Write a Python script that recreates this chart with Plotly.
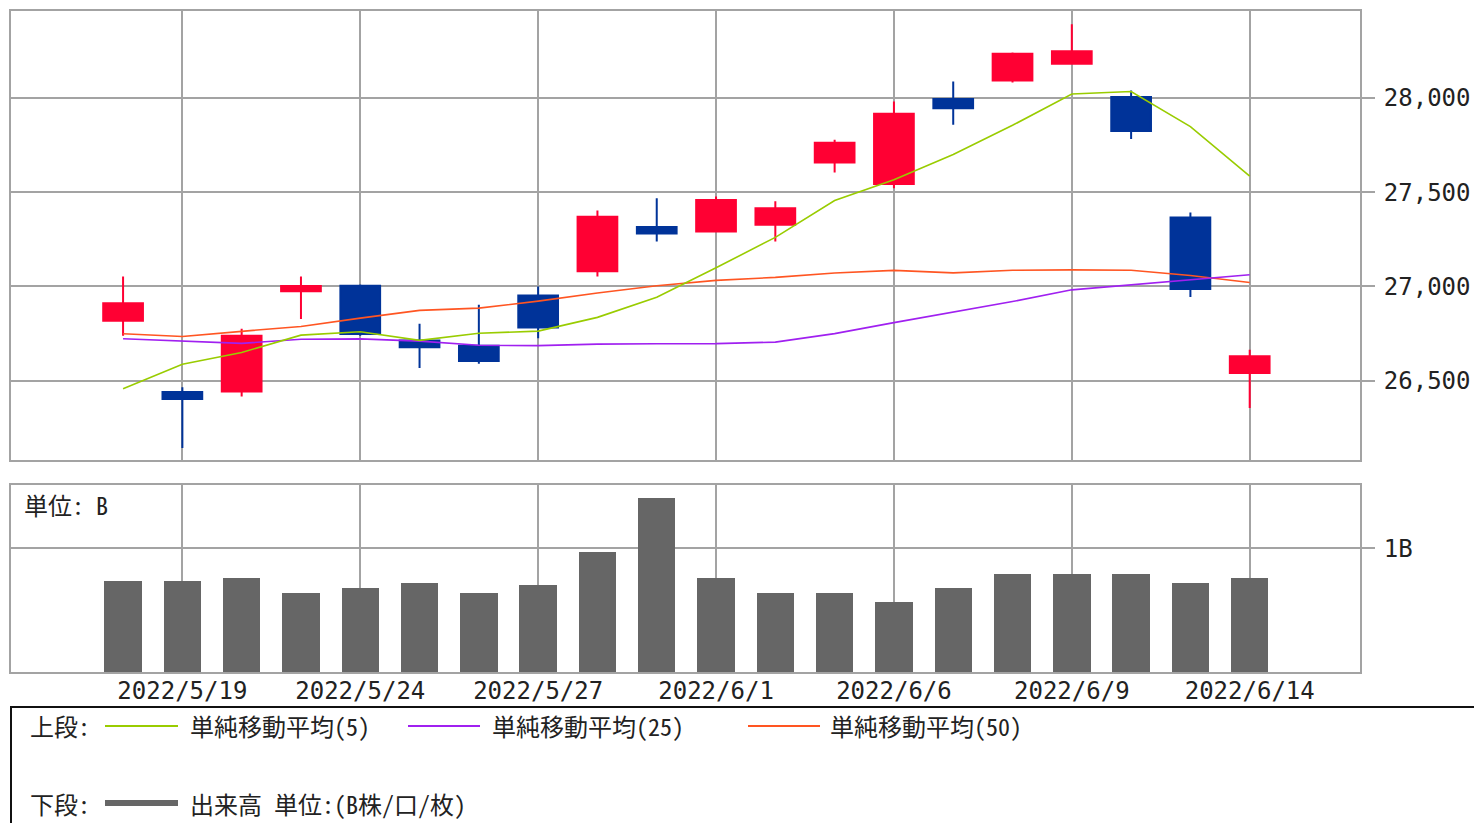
import plotly.graph_objects as go

dates = ["2022/5/18", "2022/5/19", "2022/5/20", "2022/5/23", "2022/5/24",
         "2022/5/25", "2022/5/26", "2022/5/27", "2022/5/30", "2022/5/31",
         "2022/6/1", "2022/6/2", "2022/6/3", "2022/6/6", "2022/6/7",
         "2022/6/8", "2022/6/9", "2022/6/10", "2022/6/13", "2022/6/14"]
open_ = [26818, 26440, 26443, 26975, 27004, 26714, 26686, 26952, 27080, 27315,
         27291, 27327, 27657, 27543, 27993, 28092, 28180, 28004, 27366, 26541]
high = [27053, 26465, 26776, 27053, 27010, 26802, 26903, 27000, 27403, 27468,
        27477, 27451, 27777, 27980, 28086, 28240, 28390, 28039, 27392, 26664]
low = [26739, 26143, 26417, 26827, 26738, 26567, 26590, 26726, 27053, 27238,
       27291, 27238, 27604, 27521, 27857, 28081, 28180, 27781, 26944, 26355]
close = [26911, 26403, 26739, 27002, 26748, 26678, 26605, 26782, 27369, 27280,
         27458, 27414, 27762, 27916, 27944, 28234, 28247, 27824, 26987, 26630]

ma5 = [26458, 26588, 26650, 26742, 26760, 26714, 26752, 26763, 26836, 26943,
       27099, 27260, 27455, 27566, 27699, 27854, 28020, 28033, 27847, 27585]
ma25 = [26723, 26712, 26698, 26720, 26722, 26710, 26688, 26686, 26694, 26696,
        26697, 26705, 26750, 26808, 26864, 26920, 26982, 27010, 27035, 27062]
ma50 = [26749, 26735, 26762, 26788, 26832, 26873, 26885, 26922, 26965, 27004,
        27032, 27048, 27071, 27085, 27072, 27086, 27088, 27086, 27058, 27021]

volume_b = [0.737, 0.737, 0.757, 0.640, 0.681, 0.719, 0.640, 0.700, 0.967, 1.408,
            0.757, 0.640, 0.640, 0.565, 0.681, 0.794, 0.794, 0.794, 0.719, 0.757]

x_ticks = ["2022/5/19", "2022/5/24", "2022/5/27", "2022/6/1", "2022/6/6", "2022/6/9", "2022/6/14"]
price_ticks = [26500, 27000, 27500, 28000]
price_tick_text = ["26,500", "27,000", "27,500", "28,000"]
vol_ticks = [1]
vol_tick_text = ["1B"]

legend_upper_label = "上段:"
legend_lower_label = "下段:"
legend_names = ["単純移動平均(5)", "単純移動平均(25)", "単純移動平均(50)"]
volume_name = "出来高 単位:(B株/口/枚)"
unit_label = "単位: B"

UP = "#FF0033"
DOWN = "#003399"
C5 = "#99CC00"
C25 = "#A020F0"
C50 = "#FF5522"
VOLC = "#666666"
GRID = "#A3A3A3"
TXT = "#222222"
TICKFONT = dict(family="DejaVu Sans Mono, DejaVu Sans", size=24, color=TXT)
CJK = "Noto Sans Mono CJK JP, Noto Sans CJK JP"
LEGFONT = dict(family=CJK, size=24, color=TXT)

fig = go.Figure()

fig.add_trace(go.Candlestick(
    x=dates, open=open_, high=high, low=low, close=close,
    increasing=dict(line=dict(color=UP, width=2), fillcolor=UP),
    decreasing=dict(line=dict(color=DOWN, width=2), fillcolor=DOWN),
    whiskerwidth=0, xaxis="x", yaxis="y", showlegend=False,
))
for vals, col in [(ma50, C50), (ma25, C25), (ma5, C5)]:
    fig.add_trace(go.Scatter(x=dates, y=vals, mode="lines",
                             line=dict(color=col, width=1.6),
                             xaxis="x", yaxis="y", showlegend=False))

fig.add_trace(go.Bar(x=dates, y=volume_b, marker=dict(color=VOLC, line=dict(width=0)),
                     width=0.63, xaxis="x2", yaxis="y2", showlegend=False))

W, H = 1474, 823
ml, mr, mt, mb = 11, 114, 11, 151
ph = H - mt - mb
pw = W - ml - mr


def px_x(p):
    return (p - ml) / pw


def px_y(p):
    return (H - mb - p) / ph


xr = [-1.89, 20.86]
common_x = dict(type="category", categoryorder="array", categoryarray=dates,
                range=xr, tickmode="array", tickvals=x_ticks, ticktext=x_ticks,
                showgrid=True, gridcolor=GRID, gridwidth=2,
                showline=True, linecolor=GRID, linewidth=2, mirror=True,
                zeroline=False, ticks="", tickfont=TICKFONT, automargin=False,
                ticklabelstandoff=-4,
                rangeslider=dict(visible=False), fixedrange=True)
common_y = dict(side="right", tickmode="array",
                showgrid=True, gridcolor=GRID, gridwidth=2,
                showline=True, linecolor=GRID, linewidth=2, mirror=True,
                ticks="outside", ticklen=13, tickwidth=2, tickcolor=GRID,
                ticklabelstandoff=4, automargin=False,
                tickfont=TICKFONT, zeroline=False, fixedrange=True)

fig.update_layout(
    width=W, height=H,
    margin=dict(l=ml, r=mr, t=mt, b=mb, pad=0, autoexpand=False),
    paper_bgcolor="white", plot_bgcolor="white",
    font=dict(family=CJK, color=TXT),
    boxgap=0.33, boxgroupgap=0,
    bargap=0,
    xaxis=dict(common_x, domain=[0, 1], anchor="y", showticklabels=False),
    yaxis=dict(common_y, domain=[px_y(460), 1], range=[26080, 28460],
               tickvals=price_ticks, ticktext=price_tick_text, anchor="x"),
    xaxis2=dict(common_x, domain=[0, 1], anchor="y2", showticklabels=True),
    yaxis2=dict(common_y, domain=[0, px_y(485)], range=[0, 1.51],
                tickvals=vol_ticks, ticktext=vol_tick_text, anchor="x2"),
)

fig.add_annotation(x=px_x(22), y=px_y(504), xref="paper", yref="paper",
                   text=unit_label, showarrow=False, xanchor="left", yanchor="middle",
                   font=LEGFONT)

# legend box
fig.add_shape(type="rect", xref="paper", yref="paper",
              x0=0, x1=px_x(1490), y0=px_y(707), y1=px_y(840),
              line=dict(color="#111111", width=2), fillcolor="rgba(0,0,0,0)")

row1 = px_y(726)
row2 = px_y(803)
fig.add_annotation(x=px_x(28), y=row1, xref="paper", yref="paper", text=legend_upper_label,
                   showarrow=False, xanchor="left", yanchor="middle", font=LEGFONT)
fig.add_annotation(x=px_x(28), y=row2, xref="paper", yref="paper", text=legend_lower_label,
                   showarrow=False, xanchor="left", yanchor="middle", font=LEGFONT)

items = [(105, 178, 188, C5, legend_names[0]),
         (408, 480, 490, C25, legend_names[1]),
         (748, 820, 828, C50, legend_names[2])]
for x0, x1, tx, col, name in items:
    fig.add_shape(type="line", xref="paper", yref="paper",
                  x0=px_x(x0), x1=px_x(x1), y0=row1, y1=row1,
                  line=dict(color=col, width=2))
    fig.add_annotation(x=px_x(tx), y=row1, xref="paper", yref="paper", text=name,
                       showarrow=False, xanchor="left", yanchor="middle", font=LEGFONT)

fig.add_shape(type="line", xref="paper", yref="paper",
              x0=px_x(105), x1=px_x(178), y0=row2, y1=row2,
              line=dict(color=VOLC, width=6))
fig.add_annotation(x=px_x(188), y=row2, xref="paper", yref="paper", text=volume_name,
                   showarrow=False, xanchor="left", yanchor="middle", font=LEGFONT)

fig.write_html("out.html", config={"displayModeBar": False},
               post_script="document.body.style.margin='0';document.body.style.overflow='hidden';")
